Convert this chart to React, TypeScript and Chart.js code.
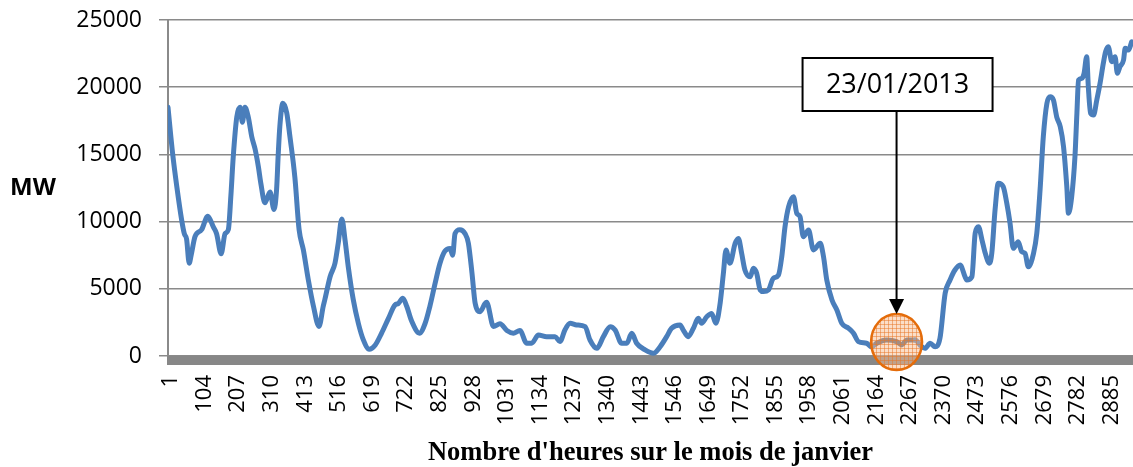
import React, { useEffect, useRef } from 'react';
import { Chart, registerables } from 'chart.js';

Chart.register(...registerables);

// Hour index (quarter-hour samples over January) and load in MW
const HOURS = [
  1, 15, 28, 43, 51, 58, 66, 72, 84, 104, 123, 140, 150, 164, 176, 186, 194, 201, 212, 222,
  229, 237, 247, 258, 268, 278, 286, 298, 314, 326, 334, 339, 344, 353, 365, 375, 390, 403, 416, 431,
  447, 464, 477, 482, 498, 513, 523, 534, 544, 554, 569, 585, 600, 618, 636, 656, 677, 697, 707, 721,
  733, 748, 772, 789, 804, 820, 835, 850, 866, 874, 881, 896, 912, 922, 933, 943, 958, 973, 978, 999,
  1019, 1040, 1060, 1080, 1101, 1116, 1137, 1162, 1188, 1203, 1218, 1234, 1254, 1280, 1295, 1316, 1336, 1357, 1372, 1392,
  1408, 1423, 1438, 1464, 1489, 1510, 1530, 1545, 1571, 1581, 1596, 1612, 1627, 1637, 1653, 1668, 1681, 1694, 1704, 1712,
  1724, 1740, 1750, 1760, 1770, 1786, 1796, 1806, 1817, 1827, 1842, 1857, 1873, 1883, 1893, 1904, 1919, 1929, 1939, 1949,
  1965, 1980, 2001, 2011, 2021, 2037, 2052, 2067, 2088, 2103, 2118, 2143, 2158, 2174, 2204, 2235, 2251, 2266, 2292, 2307,
  2322, 2338, 2353, 2368, 2384, 2399, 2414, 2430, 2445, 2450, 2466, 2476, 2486, 2497, 2507, 2520, 2527, 2537, 2547, 2562,
  2573, 2583, 2593, 2608, 2619, 2629, 2639, 2655, 2665, 2675, 2685, 2696, 2706, 2716, 2726, 2737, 2747, 2757, 2762, 2772,
  2782, 2788, 2793, 2803, 2810, 2818, 2823, 2830, 2839, 2849, 2859, 2869, 2876, 2884, 2895, 2905, 2912, 2920, 2931, 2936,
  2946, 2956,
];

const MW = [
  18500, 15100, 12600, 10100, 9100, 8700, 6900, 7500, 8900, 9400, 10400, 9600, 9100, 7600, 9100, 9400, 12000, 14800, 17800, 18500,
  17400, 18500, 17800, 16300, 15400, 14100, 12800, 11400, 12200, 10900, 12400, 15000, 17100, 18800, 18100, 16300, 13300, 9400, 7900, 5700,
  3700, 2200, 3700, 4200, 5900, 6900, 8400, 10200, 8600, 6600, 4200, 2400, 1200, 500, 800, 1700, 2800, 3800, 3900, 4300,
  3700, 2600, 1700, 2400, 3700, 5400, 6900, 7800, 8000, 7500, 9100, 9400, 9100, 8400, 6200, 3900, 3300, 3900, 4000, 2200,
  2400, 1900, 1700, 1900, 950, 950, 1560, 1440, 1440, 1070, 1930, 2430, 2310, 2180, 1190, 570, 1440, 2180, 1930, 950,
  950, 1690, 950, 450, 200, 690, 1440, 2060, 2310, 1930, 1440, 2060, 2800, 2430, 2920, 3170, 2430, 3920, 6150, 7890,
  6900, 8380, 8750, 7640, 6400, 5900, 6520, 6150, 4910, 4790, 4910, 5780, 6030, 7390, 9620, 11110, 11850, 10620, 10370, 8880,
  9380, 7890, 8380, 7390, 5660, 4170, 3420, 2430, 2060, 1690, 1070, 950, 690, 950, 1190, 1070, 820, 1190, 1190, 820,
  570, 950, 690, 1310, 4670, 5660, 6400, 6770, 5900, 5660, 5900, 9130, 9620, 8630, 7640, 6900, 7640, 10860, 12850, 12600,
  11360, 9870, 8010, 8500, 7760, 7640, 6640, 7640, 9130, 12350, 16320, 18800, 19290, 19050, 17800, 17060, 15570, 12600, 10620, 11850,
  14830, 18060, 20530, 20660, 21030, 22270, 20040, 18060, 17930, 19050, 20290, 21780, 22640, 23010, 21900, 22270, 21030, 21530, 22020, 22890,
  22760, 23380,
];

const X_TICKS = [
  1, 104, 207, 310, 413, 516, 619, 722, 825, 928, 1031, 1134, 1237, 1340, 1443,
  1546, 1649, 1752, 1855, 1958, 2061, 2164, 2267, 2370, 2473, 2576, 2679, 2782, 2885,
];
const X_MIN = 1;
const X_MAX = 2960;
const Y_MIN = 0;
const Y_MAX = 25000;
const Y_STEP = 5000;

const X_TITLE = "Nombre d'heures sur le mois de janvier";
const Y_TITLE = 'MW';
const CALLOUT_TEXT = '23/01/2013';
const HIGHLIGHT_HOUR = 2235;
const HIGHLIGHT_MW = 1040;
const HIGHLIGHT_FROM = 2160;
const HIGHLIGHT_TO = 2305;

const LINE_COLOR = '#4A7EBB';
const LINE_IN_HIGHLIGHT = '#4f5c74';
const GRID_COLOR = '#8a8a8a';
const FONT = '"Open Sans", "DejaVu Sans", sans-serif';

function makePattern(ctx: CanvasRenderingContext2D) {
  const c = document.createElement('canvas');
  c.width = 4;
  c.height = 4;
  const p = c.getContext('2d')!;
  p.fillStyle = 'rgba(248,190,145,0.5)';
  p.fillRect(0, 0, 4, 4);
  p.fillStyle = 'rgba(232,120,40,0.5)';
  p.fillRect(0, 0, 4, 1);
  p.fillRect(0, 0, 1, 4);
  return ctx.createPattern(c, 'repeat');
}

function zeroPadding(scale: any) {
  scale.paddingTop = 0;
  scale.paddingBottom = 0;
  scale.paddingLeft = 0;
  scale.paddingRight = 0;
}

export default function App() {
  const ref = useRef<HTMLCanvasElement>(null);

  useEffect(() => {
    document.body.style.margin = '0';
    const canvas = ref.current!;
    const ctx0 = canvas.getContext('2d')!;
    const pattern = makePattern(ctx0);

    const decor = {
      id: 'decor',
      beforeDatasetsDraw(chart: any) {
        const { ctx, chartArea } = chart;
        ctx.save();
        ctx.fillStyle = '#878787';
        ctx.fillRect(chartArea.left - 1, chartArea.bottom, chartArea.right - chartArea.left + 1, 9);
        ctx.restore();
      },
      afterDatasetsDraw(chart: any) {
        const { ctx, chartArea } = chart;
        const xs = chart.scales.x;
        const ys = chart.scales.y;
        const cx = xs.getPixelForValue(HIGHLIGHT_HOUR);
        const cy = ys.getPixelForValue(HIGHLIGHT_MW);
        const rx = 25.5;
        const ry = 28;
        ctx.save();
        ctx.beginPath();
        ctx.ellipse(cx, cy, rx, ry, 0, 0, Math.PI * 2);
        ctx.fillStyle = pattern || 'rgba(247,186,140,0.55)';
        ctx.fill();
        ctx.lineWidth = 2.5;
        ctx.strokeStyle = '#E46C0A';
        ctx.stroke();

        const bw = 190;
        const bh = 53;
        const bx = cx + 1 - bw / 2;
        const by = chartArea.top + 38;
        const tipY = cy - ry;
        ctx.beginPath();
        ctx.moveTo(cx, by + bh);
        ctx.lineTo(cx, tipY - 14);
        ctx.lineWidth = 2;
        ctx.strokeStyle = '#000';
        ctx.stroke();
        ctx.beginPath();
        ctx.moveTo(cx - 7.5, tipY - 15);
        ctx.lineTo(cx + 7.5, tipY - 15);
        ctx.lineTo(cx, tipY);
        ctx.closePath();
        ctx.fillStyle = '#000';
        ctx.fill();

        ctx.fillStyle = '#fff';
        ctx.fillRect(bx, by, bw, bh);
        ctx.lineWidth = 2;
        ctx.strokeStyle = '#000';
        ctx.strokeRect(bx, by, bw, bh);
        ctx.fillStyle = '#000';
        ctx.font = `27px ${FONT}`;
        ctx.textAlign = 'center';
        ctx.textBaseline = 'middle';
        ctx.fillText(CALLOUT_TEXT, bx + bw / 2, by + bh / 2 + 1);
        ctx.restore();
      },
      afterDraw(chart: any) {
        const { ctx, chartArea } = chart;
        ctx.save();
        ctx.fillStyle = '#000';
        ctx.textAlign = 'center';
        ctx.textBaseline = 'middle';
        ctx.font = `bold 24px ${FONT}`;
        ctx.fillText(Y_TITLE, 33, (chartArea.top + chartArea.bottom) / 2);
        ctx.font = 'bold 26.5px "Liberation Serif", "Times New Roman", serif';
        ctx.textBaseline = 'alphabetic';
        ctx.fillText(X_TITLE, (chartArea.left + chartArea.right) / 2, 460);
        ctx.restore();
      },
    };

    const chart = new Chart(canvas, {
      type: 'line',
      data: {
        datasets: [
          {
            data: HOURS.map((h, i) => ({ x: h, y: MW[i] })),
            borderColor: LINE_COLOR,
            borderWidth: 5,
            pointRadius: 0,
            cubicInterpolationMode: 'monotone',
            borderJoinStyle: 'round',
            borderCapStyle: 'round',
            fill: false,
            segment: {
              borderColor: (c: any) =>
                c.p0.parsed.x >= HIGHLIGHT_FROM && c.p1.parsed.x <= HIGHLIGHT_TO ? LINE_IN_HIGHLIGHT : undefined,
            },
          },
        ],
      },
      options: {
        responsive: false,
        animation: false,
        layout: { padding: { top: 20, right: 0, left: 0, bottom: 0 } },
        plugins: { legend: { display: false }, tooltip: { enabled: false } },
        scales: {
          x: {
            type: 'linear',
            min: X_MIN,
            max: X_MAX,
            afterBuildTicks: (scale: any) => {
              scale.ticks = X_TICKS.map((v) => ({ value: v }));
            },
            afterFit: (scale: any) => {
              scale.height = 111;
              zeroPadding(scale);
            },
            grid: { display: false, drawTicks: false },
            border: { display: false },
            ticks: {
              autoSkip: false,
              minRotation: 90,
              maxRotation: 90,
              padding: 19,
              labelOffset: 3,
              color: '#000',
              font: { family: FONT, size: 22 },
              callback: (v: any) => String(v),
            },
          },
          y: {
            min: Y_MIN,
            max: Y_MAX,
            afterFit: (scale: any) => {
              scale.width = 168;
              zeroPadding(scale);
            },
            grid: { color: GRID_COLOR, lineWidth: 1.5, tickLength: 9 },
            border: { display: true, color: GRID_COLOR, width: 2 },
            ticks: {
              stepSize: Y_STEP,
              padding: 17,
              color: '#000',
              font: { family: FONT, size: 23 },
              callback: (v: any) => String(v),
            },
          },
        },
      },
      plugins: [decor],
    });

    return () => chart.destroy();
  }, []);

  return <canvas ref={ref} width={1133} height={467} style={{ display: 'block' }} />;
}
